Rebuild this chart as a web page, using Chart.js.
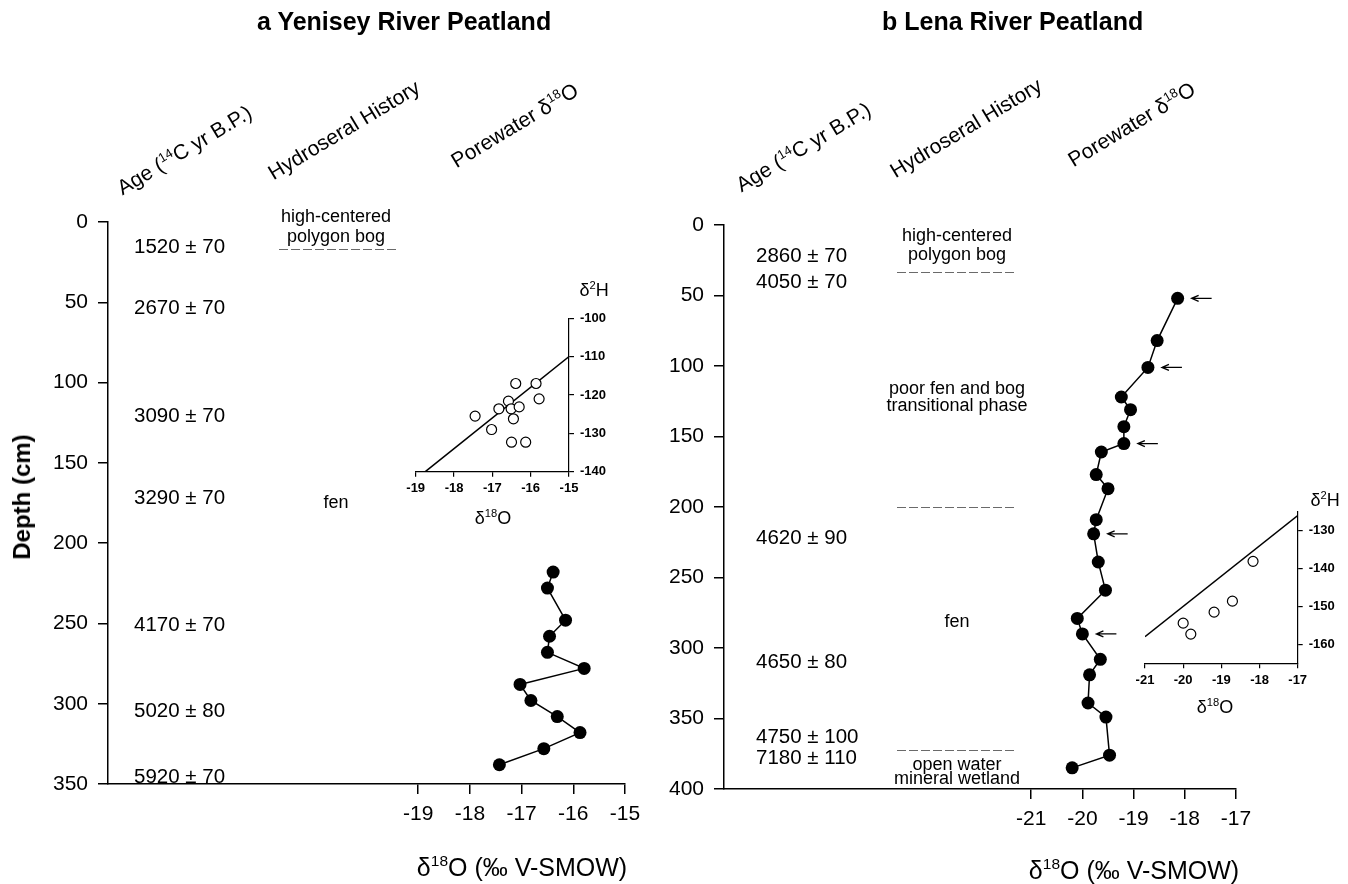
<!DOCTYPE html>
<html lang="en">
<head>
  <meta charset="UTF-8">
  <title>Porewater δ18O in Siberian peatlands</title>
  <script src="https://cdn.jsdelivr.net/npm/chart.js"></script>
  <style>
    body {
      margin: 0;
      background: #fff;
      font-family: "Liberation Sans", Arial, sans-serif;
      color: #000;
    }
    #page {
      position: relative;
      width: 1348px;
      height: 884px;
      overflow: hidden;
    }
    canvas {
      position: absolute;
    }
    .t {
      position: absolute;
      white-space: nowrap;
      line-height: 1;
    }
    .title {
      font-weight: bold;
      font-size: 25px;
    }
    .head {
      font-size: 21px;
      transform-origin: 0 100%;
      transform: rotate(-31deg);
    }
    .mid {
      transform: translate(-50%, -50%);
    }
    sup {
      font-size: 0.62em;
      vertical-align: 0.6em;
      line-height: 0;
    }
  </style>
</head>
<body>
  <div id="page">
    <canvas id="yenChart" width="660" height="884" style="left:0;top:0"></canvas>
    <canvas id="lenaChart" width="688" height="884" style="left:660px;top:0"></canvas>
    <canvas id="yenInset" width="240" height="260" style="left:400px;top:280px"></canvas>
    <canvas id="lenaInset" width="218" height="240" style="left:1130px;top:480px"></canvas>

    <div class="t title" style="left:257px;top:9px">a Yenisey River Peatland</div>
    <div class="t title" style="left:882px;top:9px">b Lena River Peatland</div>

    <div class="t head" style="left:124px;top:177px">Age (<sup>14</sup>C yr B.P.)</div>
    <div class="t head" style="left:275px;top:162px">Hydroseral History</div>
    <div class="t head" style="left:458px;top:150px">Porewater δ<sup>18</sup>O</div>
    <div class="t head" style="left:743px;top:174px">Age (<sup>14</sup>C yr B.P.)</div>
    <div class="t head" style="left:897px;top:160px">Hydroseral History</div>
    <div class="t head" style="left:1075px;top:149px">Porewater δ<sup>18</sup>O</div>

    <div class="t" style="left:22px;top:497px;font-size:24px;font-weight:bold;transform:translate(-50%,-50%) rotate(-90deg)">Depth (cm)</div>
    <div class="t mid" style="left:522px;top:867px;font-size:25px">δ<sup>18</sup>O (‰ V-SMOW)</div>
    <div class="t mid" style="left:1134px;top:870px;font-size:25px">δ<sup>18</sup>O (‰ V-SMOW)</div>

    <div class="t mid" style="left:493px;top:518px;font-size:18px">δ<sup>18</sup>O</div>
    <div class="t mid" style="left:594px;top:290px;font-size:18px">δ<sup>2</sup>H</div>
    <div class="t mid" style="left:1215px;top:707px;font-size:18px">δ<sup>18</sup>O</div>
    <div class="t mid" style="left:1325px;top:500px;font-size:18px">δ<sup>2</sup>H</div>
  </div>

  <script>
    // Yenisey profile (depth in cm, porewater d18O in permil)
    const yenDepth = [218, 228, 248, 258, 268, 278, 288, 298, 308, 318, 328, 338];
    const yenD18O = [-16.39, -16.50, -16.15, -16.46, -16.50, -15.79, -17.03, -16.82, -16.31, -15.87, -16.57, -17.43];

    // Yenisey inset: d18O vs d2H
    const yenInsetD18O = [-16.39, -15.86, -15.78, -16.58, -16.83, -16.51, -16.30, -17.45, -16.45, -17.02, -16.50, -16.13];
    const yenInsetD2H = [-117.0, -117.0, -121.0, -121.6, -123.6, -123.6, -123.1, -125.5, -126.2, -129.0, -132.3, -132.3];
    const yenMwlX = [-18.75, -15];
    const yenMwlY = [-140, -110];

    // Lena profile
    const lenaDepth = [52, 82, 101, 122, 131, 143, 155, 161, 177, 187, 209, 219, 239, 259, 279, 290, 308, 319, 339, 349, 376, 385];
    const lenaD18O = [-18.14, -18.54, -18.72, -19.24, -19.06, -19.19, -19.19, -19.63, -19.73, -19.50, -19.73, -19.78,
                      -19.69, -19.55, -20.10, -20.00, -19.65, -19.86, -19.89, -19.54, -19.47, -20.20];
    const lenaArrowIdx = [0, 2, 6, 11, 15];

    // Lena inset
    const lenaInsetD18O = [-18.17, -18.71, -19.19, -20.00, -19.80];
    const lenaInsetD2H = [-138.1, -148.6, -151.5, -154.4, -157.3];
    const lenaMwlX = [-21, -17];
    const lenaMwlY = [-158, -126];

    // tick labels
    const yenDepthTicks = [0, 50, 100, 150, 200, 250, 300, 350];
    const lenaDepthTicks = [0, 50, 100, 150, 200, 250, 300, 350, 400];
    const yenD18OTicks = [-19, -18, -17, -16, -15];
    const lenaD18OTicks = [-21, -20, -19, -18, -17];
    const yenInsetXTicks = [-19, -18, -17, -16, -15];
    const yenInsetYTicks = [-140, -130, -120, -110, -100];
    const lenaInsetXTicks = [-21, -20, -19, -18, -17];
    const lenaInsetYTicks = [-160, -150, -140, -130];

    // radiocarbon ages and hydroseral history against depth
    const yenAges = ['1520 ± 70', '2670 ± 70', '3090 ± 70', '3290 ± 70', '4170 ± 70', '5020 ± 80', '5920 ± 70'];
    const yenAgeDepths = [15.5, 53.5, 121, 172, 251, 305, 346];
    const yenZones = ['high-centered', 'polygon bog', 'fen'];
    const yenZoneDepths = [-3.3, 9.2, 175];
    const yenBounds = [17];

    const lenaAges = ['2860 ± 70', '4050 ± 70', '4620 ± 90', '4650 ± 80', '4750 ± 100', '7180 ± 110'];
    const lenaAgeDepths = [22.5, 41, 222, 310, 363.5, 378];
    const lenaZones = ['high-centered', 'polygon bog', 'poor fen and bog', 'transitional phase', 'fen', 'open water', 'mineral wetland'];
    const lenaZoneDepths = [7.8, 21.3, 116, 128.2, 281.6, 383, 392.6];
    const lenaBounds = [33, 200, 372];

    const FONT = '"Liberation Sans", Arial, sans-serif';
    Chart.defaults.font.family = FONT;
    Chart.defaults.color = '#000';

    // text columns and arrows drawn against the depth scale
    const depthNotes = {
      id: 'depthNotes',
      afterDatasetsDraw(chart, args, opts) {
        const ctx = chart.ctx;
        const y = chart.scales.y;
        const left = chart.chartArea.left;
        ctx.save();
        ctx.fillStyle = '#000';
        ctx.textBaseline = 'middle';

        ctx.font = '20.5px ' + FONT;
        ctx.textAlign = 'left';
        opts.ages.forEach((t, i) => {
          ctx.fillText(t, left + opts.ageOffset, y.getPixelForValue(opts.ageDepths[i]));
        });

        ctx.font = '18px ' + FONT;
        ctx.textAlign = 'center';
        opts.zones.forEach((t, i) => {
          ctx.fillText(t, left + opts.zoneOffset, y.getPixelForValue(opts.zoneDepths[i]));
        });

        ctx.strokeStyle = '#6a6a6a';
        ctx.lineWidth = 1;
        ctx.setLineDash([9, 3]);
        opts.bounds.forEach(d => {
          const py = Math.round(y.getPixelForValue(d)) + 0.5;
          ctx.beginPath();
          ctx.moveTo(left + opts.lineFrom, py);
          ctx.lineTo(left + opts.lineTo, py);
          ctx.stroke();
        });
        ctx.setLineDash([]);

        if (opts.arrows) {
          const pts = chart.getDatasetMeta(0).data;
          ctx.strokeStyle = '#000';
          ctx.lineWidth = 1.3;
          opts.arrows.forEach(i => {
            const p = pts[i];
            const x0 = p.x + 14, x1 = p.x + 34;
            ctx.beginPath();
            ctx.moveTo(x1, p.y);
            ctx.lineTo(x0, p.y);
            ctx.moveTo(x0 + 7, p.y - 3);
            ctx.lineTo(x0, p.y);
            ctx.lineTo(x0 + 7, p.y + 3);
            ctx.stroke();
          });
        }
        ctx.restore();
      }
    };

    function axisStyle(tickLen, width) {
      return {
        grid: { drawOnChartArea: false, tickLength: tickLen, color: '#000', lineWidth: width },
        border: { color: '#000', width: width }
      };
    }

    function profileChart(id, d18O, depth, cfg) {
      return new Chart(document.getElementById(id), {
        type: 'scatter',
        data: {
          datasets: [{
            data: depth.map((d, i) => ({ x: d18O[i], y: d })),
            showLine: true,
            borderColor: '#000',
            borderWidth: 1.5,
            pointRadius: 6.5,
            pointBackgroundColor: '#000',
            pointBorderWidth: 0
          }]
        },
        options: {
          responsive: false,
          animation: false,
          layout: { padding: cfg.padding },
          scales: {
            x: {
              type: 'linear',
              min: cfg.xMin,
              max: cfg.xMax,
              afterBuildTicks: s => { s.ticks = cfg.xTicks.map(v => ({ value: v })); },
              afterFit: s => { s.height = cfg.xHeight; },
              ticks: { font: { size: 21 }, padding: 8, maxRotation: 0, autoSkip: false },
              ...axisStyle(10, 1.5)
            },
            y: {
              type: 'linear',
              reverse: true,
              min: 0,
              max: cfg.yMax,
              afterBuildTicks: s => { s.ticks = cfg.yTicks.map(v => ({ value: v })); },
              afterFit: s => { s.width = cfg.yWidth; },
              ticks: { font: { size: 21 }, padding: 10, autoSkip: false },
              ...axisStyle(10, 1.5)
            }
          },
          plugins: {
            legend: { display: false },
            tooltip: { enabled: false },
            depthNotes: cfg.notes
          }
        },
        plugins: [depthNotes]
      });
    }

    function insetChart(id, xs, ys, mwlX, mwlY, cfg) {
      return new Chart(document.getElementById(id), {
        type: 'scatter',
        data: {
          datasets: [
            {
              data: xs.map((v, i) => ({ x: v, y: ys[i] })),
              pointRadius: 5,
              pointBackgroundColor: '#fff',
              pointBorderColor: '#000',
              pointBorderWidth: 1.2
            },
            {
              data: mwlX.map((v, i) => ({ x: v, y: mwlY[i] })),
              showLine: true,
              pointRadius: 0,
              borderColor: '#000',
              borderWidth: 1.5
            }
          ]
        },
        options: {
          responsive: false,
          animation: false,
          layout: { padding: cfg.padding },
          scales: {
            x: {
              type: 'linear',
              min: cfg.xMin,
              max: cfg.xMax,
              afterBuildTicks: s => { s.ticks = cfg.xTicks.map(v => ({ value: v })); },
              afterFit: s => { s.height = cfg.xHeight; },
              ticks: { font: { size: 13, weight: 'bold' }, padding: 4, maxRotation: 0, autoSkip: false },
              ...axisStyle(5, 1.2)
            },
            y: {
              type: 'linear',
              position: 'right',
              min: cfg.yMin,
              max: cfg.yMax,
              afterBuildTicks: s => { s.ticks = cfg.yTicks.map(v => ({ value: v })); },
              afterFit: s => { s.width = cfg.yWidth; },
              ticks: { font: { size: 13, weight: 'bold' }, padding: 6, autoSkip: false },
              ...axisStyle(5, 1.2)
            }
          },
          plugins: { legend: { display: false }, tooltip: { enabled: false } }
        }
      });
    }

    profileChart('yenChart', yenD18O, yenDepth, {
      padding: { left: 0, top: 222, right: 35, bottom: 0 },
      xMin: -25, xMax: -15, xTicks: yenD18OTicks, xHeight: 100,
      yMax: 350, yTicks: yenDepthTicks, yWidth: 108,
      notes: {
        ages: yenAges, ageDepths: yenAgeDepths, ageOffset: 26,
        zones: yenZones, zoneDepths: yenZoneDepths, zoneOffset: 228,
        bounds: yenBounds, lineFrom: 171, lineTo: 290
      }
    });

    profileChart('lenaChart', lenaD18O, lenaDepth, {
      padding: { left: 0, top: 225, right: 112, bottom: 0 },
      xMin: -27, xMax: -17, xTicks: lenaD18OTicks, xHeight: 95,
      yMax: 400, yTicks: lenaDepthTicks, yWidth: 64,
      notes: {
        ages: lenaAges, ageDepths: lenaAgeDepths, ageOffset: 32,
        zones: lenaZones, zoneDepths: lenaZoneDepths, zoneOffset: 233,
        bounds: lenaBounds, lineFrom: 173, lineTo: 290,
        arrows: lenaArrowIdx
      }
    });

    insetChart('yenInset', yenInsetD18O, yenInsetD2H, yenMwlX, yenMwlY, {
      padding: { left: 15.7, top: 38.3, right: 21, bottom: 0 },
      xMin: -19, xMax: -15, xTicks: yenInsetXTicks, xHeight: 68.3,
      yMin: -140, yMax: -100, yTicks: yenInsetYTicks, yWidth: 50
    });

    insetChart('lenaInset', lenaInsetD18O, lenaInsetD2H, lenaMwlX, lenaMwlY, {
      padding: { left: 15, top: 31.7, right: 5, bottom: 0 },
      xMin: -21, xMax: -17, xTicks: lenaInsetXTicks, xHeight: 56.7,
      yMin: -165, yMax: -125, yTicks: lenaInsetYTicks, yWidth: 45.3
    });
  </script>
</body>
</html>
